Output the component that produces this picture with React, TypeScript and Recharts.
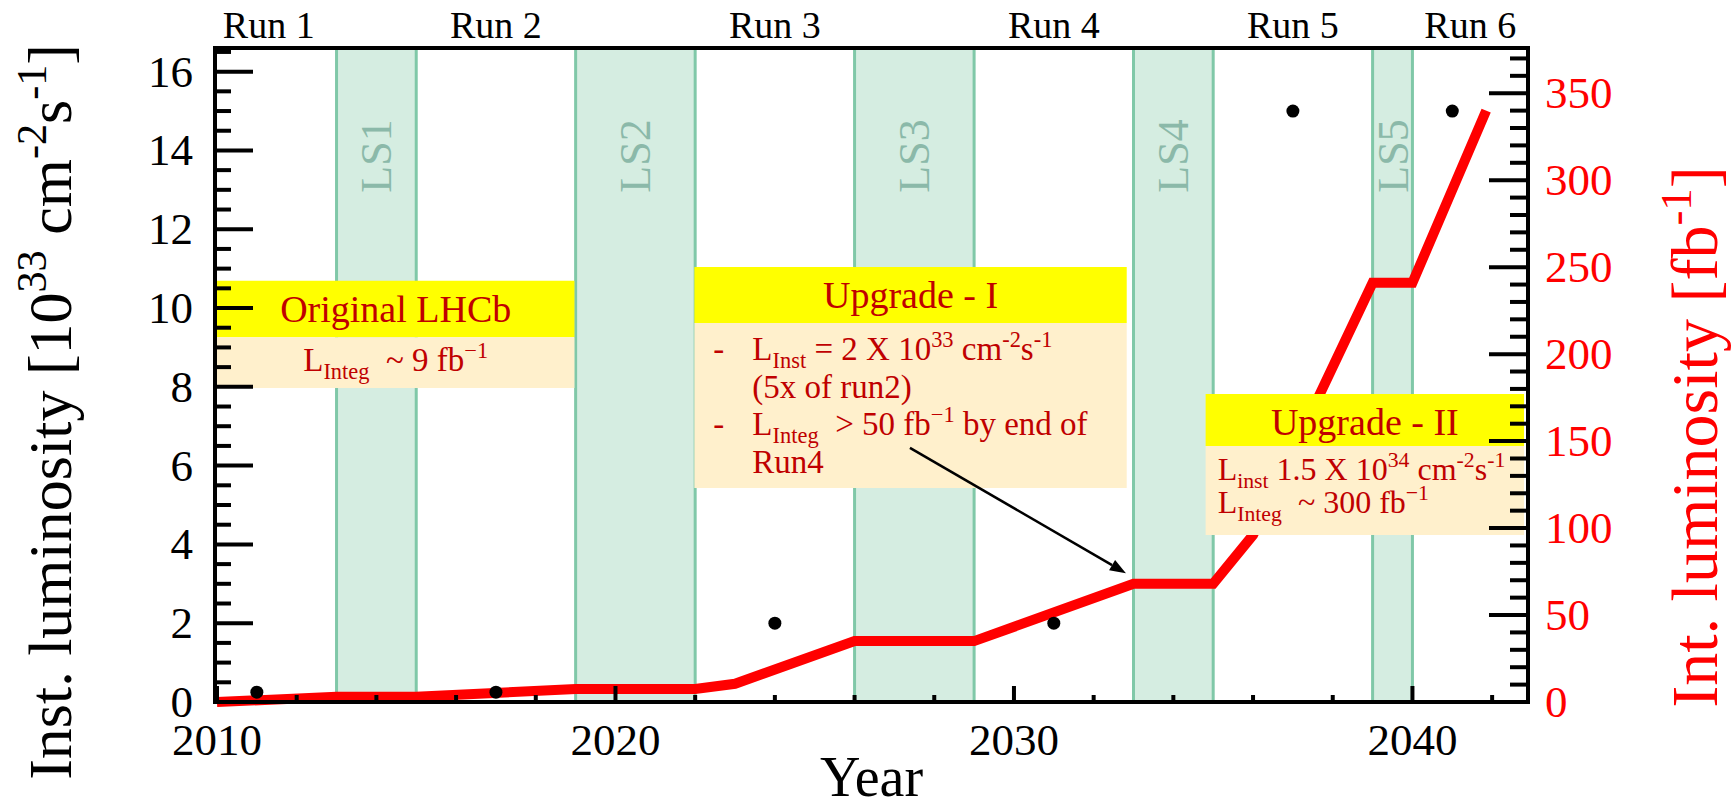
import React from "react";
import {
  ComposedChart,
  Line,
  Scatter,
  XAxis,
  YAxis,
  ReferenceArea,
  ReferenceLine,
} from "recharts";

// peak instantaneous luminosity per run [10^33 cm^-2 s^-1]
const INST_YEARS = [2011, 2017, 2024, 2031, 2037, 2041];
const INST_LUMI = [0.25, 0.25, 2, 2, 15, 15];

// cumulative integrated luminosity [fb^-1]
const INTEG_YEARS = [2010, 2013, 2015, 2019, 2022, 2023, 2026, 2029, 2033, 2035, 2036, 2039, 2040, 2041.85];
const INTEG_LUMI = [0, 3, 3, 7.5, 7.5, 10.5, 35, 35, 68, 68, 96, 241, 241, 340];

const RUN_NAMES = ["Run 1", "Run 2", "Run 3", "Run 4", "Run 5", "Run 6"];
const RUN_CENTRES = [2011.3, 2017, 2024, 2031, 2037, 2041.45];

// long shutdowns
const SHUTDOWN_NAMES = ["LS1", "LS2", "LS3", "LS4", "LS5"];
const SHUTDOWN_FROM = [2013, 2019, 2026, 2033, 2039];
const SHUTDOWN_TO = [2015, 2022, 2029, 2035, 2040];

const YEAR_TICKS = [2010, 2012, 2014, 2016, 2018, 2020, 2022, 2024, 2026, 2028, 2030, 2032, 2034, 2036, 2038, 2040, 2042];
const INST_TICKS = [
  0, 0.5, 1, 1.5, 2, 2.5, 3, 3.5, 4, 4.5, 5, 5.5, 6, 6.5, 7, 7.5, 8, 8.5,
  9, 9.5, 10, 10.5, 11, 11.5, 12, 12.5, 13, 13.5, 14, 14.5, 15, 15.5, 16, 16.5,
];
const INTEG_TICKS = [
  0, 10, 20, 30, 40, 50, 60, 70, 80, 90, 100, 110, 120, 130, 140, 150, 160, 170, 180,
  190, 200, 210, 220, 230, 240, 250, 260, 270, 280, 290, 300, 310, 320, 330, 340, 350, 360, 370,
];

const instData = INST_YEARS.map((year, i) => ({ year, inst: INST_LUMI[i] }));
const integData = INTEG_YEARS.map((year, i) => ({ year, integ: INTEG_LUMI[i] }));

const SERIF = '"Liberation Serif", "Times New Roman", serif';
const RED = "#ff0000";
const DARK_RED = "#c00000";
const YELLOW = "#ffff00";
const BEIGE = "#fff0cc";
const BAND = "#d5ede1";
const BAND_EDGE = "#80c8a8";

const serif = { fontFamily: SERIF, whiteSpace: "pre" as const };

type Seg = [string, ("sub" | "sup")?];

// text runs with sub/superscripts, dy bookkeeping so the baseline comes back
function rich(segs: Seg[], size: number) {
  let level = 0;
  return segs.map(([t, kind], i) => {
    const target = kind === "sub" ? size * 0.25 : kind === "sup" ? -size * 0.4 : 0;
    const dy = target - level;
    level = target;
    return (
      <tspan key={i} dy={dy || undefined} fontSize={kind ? size * 0.68 : size}>
        {t}
      </tspan>
    );
  });
}

const InstTick = (props: any) => {
  const { x, y, payload } = props;
  const v = payload.value as number;
  const major = v % 2 === 0;
  const ax = x + 22;
  return (
    <g>
      <line x1={ax} x2={ax + (major ? 38 : 16)} y1={y} y2={y} stroke="#000" strokeWidth={4} />
      {major && (
        <text x={x} y={y + 15} textAnchor="end" fontSize={45} fontFamily={SERIF} style={serif} fill="#000">
          {v}
        </text>
      )}
    </g>
  );
};

const IntegTick = (props: any) => {
  const { x, y, payload } = props;
  const v = payload.value as number;
  const major = v % 50 === 0;
  const ax = x - 17;
  return (
    <g>
      <line x1={ax} x2={ax - (major ? 39 : 18)} y1={y} y2={y} stroke="#000" strokeWidth={4} />
      {major && (
        <text x={x} y={y + 15} textAnchor="start" fontSize={45} fontFamily={SERIF} style={serif} fill={RED}>
          {v}
        </text>
      )}
    </g>
  );
};

const YearTick = (props: any) => {
  const { x, y, payload } = props;
  const v = payload.value as number;
  const major = v % 10 === 0;
  return (
    <g>
      <line x1={x} x2={x} y1={y} y2={y - (major ? 16 : 7)} stroke="#000" strokeWidth={4} />
      {major && (
        <text x={x} y={y + 53} textAnchor="middle" fontSize={45} fontFamily={SERIF} style={serif} fill="#000">
          {v}
        </text>
      )}
    </g>
  );
};

const runLabel = (name: string) => ({ viewBox }: any) => (
  <text x={viewBox.x} y={viewBox.y - 10} textAnchor="middle" fontSize={38} fontFamily={SERIF} style={serif} fill="#000">
    {name}
  </text>
);

const YearTitle = ({ viewBox }: any) => {
  const v = viewBox ?? { x: 215, y: 702, width: 1313, height: 105 };
  return (
    <text x={v.x + v.width / 2} y={v.y + 94} textAnchor="middle" fontSize={56} fontFamily={SERIF} style={serif} fill="#000">
      Year
    </text>
  );
};

const InstTitle = ({ viewBox }: any) => {
  const v = viewBox ?? { x: 0, y: 48, width: 215, height: 654 };
  return (
    <text
      transform={`translate(${v.x + 71},${v.y - 4}) rotate(-90)`}
      textAnchor="end"
      fontSize={62}
      fontFamily={SERIF}
      style={serif}
      fill="#000"
    >
      {rich(
        [["Inst. luminosity [10"], ["33", "sup"], [" cm"], ["-2", "sup"], ["s"], ["-1", "sup"], ["]"]],
        62,
      )}
    </text>
  );
};

const IntegTitle = ({ viewBox }: any) => {
  const v = viewBox ?? { x: 1528, y: 48, width: 208, height: 654 };
  return (
    <text
      transform={`translate(${v.x + 189},${v.y + 389}) rotate(-90)`}
      textAnchor="middle"
      fontSize={66}
      fontFamily={SERIF}
      style={serif}
      fill={RED}
    >
      {rich([["Int. luminosity [fb"], ["-1", "sup"], ["]"]], 66)}
    </text>
  );
};

const bandLabel = (name: string) => ({ viewBox }: any) => {
  const cx = viewBox.x + viewBox.width / 2 + 15;
  const cy = viewBox.y + 108;
  return (
    <text
      transform={`translate(${cx},${cy}) rotate(-90)`}
      textAnchor="middle"
      fontSize={44}
      fontFamily={SERIF}
      style={serif}
      fill="#8bb9a9"
    >
      {name}
    </text>
  );
};

const header = (title: string) => ({ viewBox: v }: any) => (
  <text x={v.x + v.width / 2} y={v.y + 41} textAnchor="middle" fontSize={38} fontFamily={SERIF} style={serif} fill={DARK_RED}>
    {title}
  </text>
);

const OriginalBody = ({ viewBox: v }: any) => (
  <text x={v.x + v.width / 2} y={v.y + 34} textAnchor="middle" fontSize={33} fontFamily={SERIF} style={serif} fill={DARK_RED}>
    {rich([["L"], ["Integ", "sub"], ["  ~ 9 fb"], ["−1", "sup"]], 33)}
  </text>
);

const UpgradeOneBody = ({ viewBox: v }: any) => {
  const dash = v.x + 19;
  const tx = v.x + 58;
  const t = { fontSize: 33, fontFamily: SERIF, fill: DARK_RED, style: serif };
  return (
    <g>
      <text x={dash} y={v.y + 37} {...t}>-</text>
      <text x={tx} y={v.y + 37} {...t}>
        {rich([["L"], ["Inst", "sub"], [" = 2 X 10"], ["33", "sup"], [" cm"], ["-2", "sup"], ["s"], ["-1", "sup"]], 33)}
      </text>
      <text x={tx} y={v.y + 75} {...t}>(5x of run2)</text>
      <text x={dash} y={v.y + 112} {...t}>-</text>
      <text x={tx} y={v.y + 112} {...t}>
        {rich([["L"], ["Integ", "sub"], ["  > 50 fb"], ["−1", "sup"], [" by end of"]], 33)}
      </text>
      <text x={tx} y={v.y + 150} {...t}>Run4</text>
    </g>
  );
};

const UpgradeTwoBody = ({ viewBox: v }: any) => {
  const tx = v.x + 12;
  const t = { fontSize: 32, fontFamily: SERIF, fill: DARK_RED, style: serif };
  return (
    <g>
      <text x={tx} y={v.y + 34} {...t}>
        {rich([["L"], ["inst", "sub"], [" 1.5 X 10"], ["34", "sup"], [" cm"], ["-2", "sup"], ["s"], ["-1", "sup"]], 32)}
      </text>
      <text x={tx} y={v.y + 67} {...t}>
        {rich([["L"], ["Integ", "sub"], ["  ~ 300 fb"], ["−1", "sup"]], 32)}
      </text>
    </g>
  );
};

const Arrow = (props: any) => {
  const { x1, y1, x2, y2 } = props;
  const a = Math.atan2(y2 - y1, x2 - x1);
  const len = 16;
  const half = 6;
  const bx = x2 - len * Math.cos(a);
  const by = y2 - len * Math.sin(a);
  const p1 = `${bx + half * Math.sin(a)},${by - half * Math.cos(a)}`;
  const p2 = `${bx - half * Math.sin(a)},${by + half * Math.cos(a)}`;
  return (
    <g>
      <line x1={x1} y1={y1} x2={bx} y2={by} stroke="#000" strokeWidth={2.5} />
      <polygon points={`${x2},${y2} ${p1} ${p2}`} fill="#000" />
    </g>
  );
};

const axisLine = { stroke: "#000", strokeWidth: 4, strokeLinecap: "square" as const };

export default function App() {
  return (
    <div style={{ position: "absolute", left: 0, top: 0, background: "#fff" }}>
      <ComposedChart width={1736} height={807} margin={{ top: 0, right: 0, bottom: 0, left: 0 }}>
        {/* shutdown bands */}
        {SHUTDOWN_NAMES.map((name, i) => (
          <ReferenceArea
            key={name}
            xAxisId="year"
            yAxisId="inst"
            x1={SHUTDOWN_FROM[i]}
            x2={SHUTDOWN_TO[i]}
            fill={BAND}
            fillOpacity={1}
            stroke="none"
            zIndex={50}
            label={bandLabel(name)}
          />
        ))}
        {SHUTDOWN_FROM.concat(SHUTDOWN_TO).map((x) => (
          <ReferenceLine key={`edge-${x}`} xAxisId="year" yAxisId="inst" x={x} stroke={BAND_EDGE} strokeWidth={3} zIndex={60} />
        ))}

        {/* run names above the frame */}
        {RUN_NAMES.map((name, i) => (
          <ReferenceLine
            key={name}
            xAxisId="year"
            yAxisId="inst"
            x={RUN_CENTRES[i]}
            stroke="none"
            ifOverflow="visible"
            label={runLabel(name)}
          />
        ))}

        <Line
          data={integData}
          xAxisId="year"
          yAxisId="integ"
          dataKey="integ"
          type="linear"
          stroke={RED}
          strokeWidth={10}
          dot={false}
          activeDot={false}
          isAnimationActive={false}
        />

        <XAxis
          xAxisId="year"
          dataKey="year"
          type="number"
          orientation="bottom"
          height={105}
          domain={[2009.95, 2042.9]}
          ticks={YEAR_TICKS}
          interval={0}
          tickLine={false}
          tickSize={0}
          tickMargin={0}
          tick={YearTick}
          axisLine={axisLine}
          label={YearTitle}
        />
        <XAxis
          xAxisId="frame"
          dataKey="year"
          type="number"
          orientation="top"
          height={48}
          domain={[2009.95, 2042.9]}
          tickLine={false}
          tick={false}
          axisLine={axisLine}
        />
        <YAxis
          yAxisId="inst"
          orientation="left"
          type="number"
          width={215}
          domain={[0, 16.6]}
          ticks={INST_TICKS}
          interval={0}
          tickLine={false}
          tickSize={0}
          tickMargin={22}
          tick={InstTick}
          axisLine={axisLine}
          label={InstTitle}
        />
        <YAxis
          yAxisId="integ"
          orientation="right"
          type="number"
          width={208}
          domain={[0, 376]}
          ticks={INTEG_TICKS}
          interval={0}
          tickLine={false}
          tickSize={0}
          tickMargin={17}
          tick={IntegTick}
          axisLine={axisLine}
          label={IntegTitle}
        />

        {/* annotation boxes */}
        <ReferenceArea xAxisId="year" yAxisId="inst" x1={2010} x2={2018.97} y1={9.26} y2={10.69}
          fill={YELLOW} fillOpacity={1} stroke="none" zIndex={550} label={header("Original LHCb")} />
        <ReferenceArea xAxisId="year" yAxisId="inst" x1={2010} x2={2018.97} y1={7.97} y2={9.26}
          fill={BEIGE} fillOpacity={1} stroke="none" zIndex={550} label={OriginalBody} />

        <ReferenceArea xAxisId="year" yAxisId="inst" x1={2021.98} x2={2032.83} y1={9.62} y2={11.04}
          fill={YELLOW} fillOpacity={1} stroke="none" zIndex={550} label={header("Upgrade - I")} />
        <ReferenceArea xAxisId="year" yAxisId="inst" x1={2021.98} x2={2032.83} y1={5.43} y2={9.62}
          fill={BEIGE} fillOpacity={1} stroke="none" zIndex={550} label={UpgradeOneBody} />

        <ReferenceArea xAxisId="year" yAxisId="inst" x1={2034.81} x2={2042.8} y1={6.5} y2={7.82}
          fill={YELLOW} fillOpacity={1} stroke="none" zIndex={550} label={header("Upgrade - II")} />
        <ReferenceArea xAxisId="year" yAxisId="inst" x1={2034.81} x2={2042.8} y1={4.24} y2={6.5}
          fill={BEIGE} fillOpacity={1} stroke="none" zIndex={550} label={UpgradeTwoBody} />

        <Scatter
          data={instData}
          xAxisId="year"
          yAxisId="inst"
          dataKey="inst"
          fill="#000"
          zIndex={600}
          shape={(p: any) => <circle cx={p.cx} cy={p.cy} r={6.5} fill="#000" />}
          isAnimationActive={false}
        />

        <ReferenceLine
          xAxisId="year"
          yAxisId="inst"
          segment={[
            { x: 2027.39, y: 6.45 },
            { x: 2032.81, y: 3.27 },
          ]}
          zIndex={650}
          shape={Arrow}
        />
      </ComposedChart>
    </div>
  );
}
